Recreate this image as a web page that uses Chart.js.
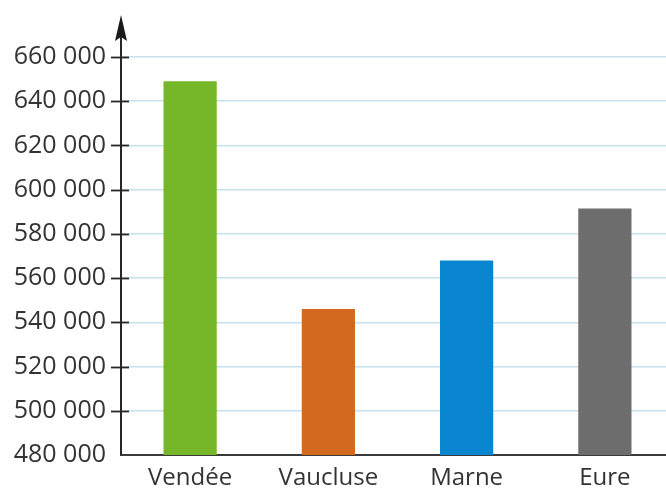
<!DOCTYPE html>
<html>
<head>
<meta charset="utf-8">
<style>
  html, body { margin: 0; padding: 0; background: #ffffff; overflow: hidden; }
  #wrap { width: 674px; height: 489px; }
</style>
<script src="https://cdn.jsdelivr.net/npm/chart.js@4.4.1/dist/chart.umd.min.js"></script>
</head>
<body>
<div id="wrap"><canvas id="c" width="674" height="489"></canvas></div>
<script>
// Population par département
const departements = ['Vendée', 'Vaucluse', 'Marne', 'Eure'];
const population = [649000, 546000, 568000, 591500];
const barColors = ['#76b72a', '#d2691d', '#0a85cf', '#6d6d6d'];
const yMin = 480000;
const yMax = 660000;
const yStep = 20000;

function formatNombre(v) {
  return String(Math.round(v)).replace(/\B(?=(\d{3})+(?!\d))/g, ' ');
}

// Axe vertical avec flèche et petites graduations de part et d'autre
const axisPlugin = {
  id: 'axisArrow',
  afterDatasetsDraw(chart) {
    const ctx = chart.ctx;
    const y = chart.scales.y;
    const x = y.right;
    ctx.save();
    ctx.strokeStyle = '#262626';
    ctx.fillStyle = '#1a1a1a';
    ctx.lineWidth = 2;
    ctx.beginPath();
    ctx.moveTo(x, chart.chartArea.bottom);
    ctx.lineTo(x, 30);
    ctx.stroke();
    // flèche
    ctx.beginPath();
    ctx.moveTo(x, 15);
    ctx.lineTo(x - 6, 41);
    ctx.lineTo(x, 37);
    ctx.lineTo(x + 6, 41);
    ctx.closePath();
    ctx.fill();
    // graduations
    ctx.lineWidth = 1.8;
    y.ticks.forEach(t => {
      if (t.value === yMin) return;
      const py = Math.round(y.getPixelForValue(t.value)) + 0.5;
      ctx.beginPath();
      ctx.moveTo(x - 10, py);
      ctx.lineTo(x + 8, py);
      ctx.stroke();
    });
    ctx.restore();
  }
};

new Chart(document.getElementById('c'), {
  type: 'bar',
  data: {
    labels: departements,
    datasets: [{
      data: population,
      backgroundColor: barColors,
      borderWidth: 0,
      categoryPercentage: 1,
      barPercentage: 0.385
    }]
  },
  options: {
    responsive: false,
    animation: false,
    events: [],
    layout: { padding: { top: 57, right: 0, left: 0, bottom: 0 } },
    plugins: { legend: { display: false }, tooltip: { enabled: false } },
    scales: {
      x: {
        grid: { display: false, drawTicks: false },
        border: { display: true, color: '#3a3a3a', width: 2 },
        ticks: {
          color: '#333333',
          font: { family: 'Open Sans', size: 24, weight: '500' },
          padding: 9,
          maxRotation: 0
        },
        afterFit(scale) { scale.height = 34; }
      },
      y: {
        min: yMin,
        max: yMax,
        grid: {
          color: '#c6e2ee',
          lineWidth: 1.5,
          drawTicks: false
        },
        border: { display: false },
        ticks: {
          stepSize: yStep,
          color: '#333333',
          font: { family: 'Open Sans', size: 25, weight: '500' },
          padding: 15,
          callback: v => formatNombre(v)
        },
        afterFit(scale) { scale.width = 121; }
      }
    }
  },
  plugins: [axisPlugin]
});
</script>
</body>
</html>
